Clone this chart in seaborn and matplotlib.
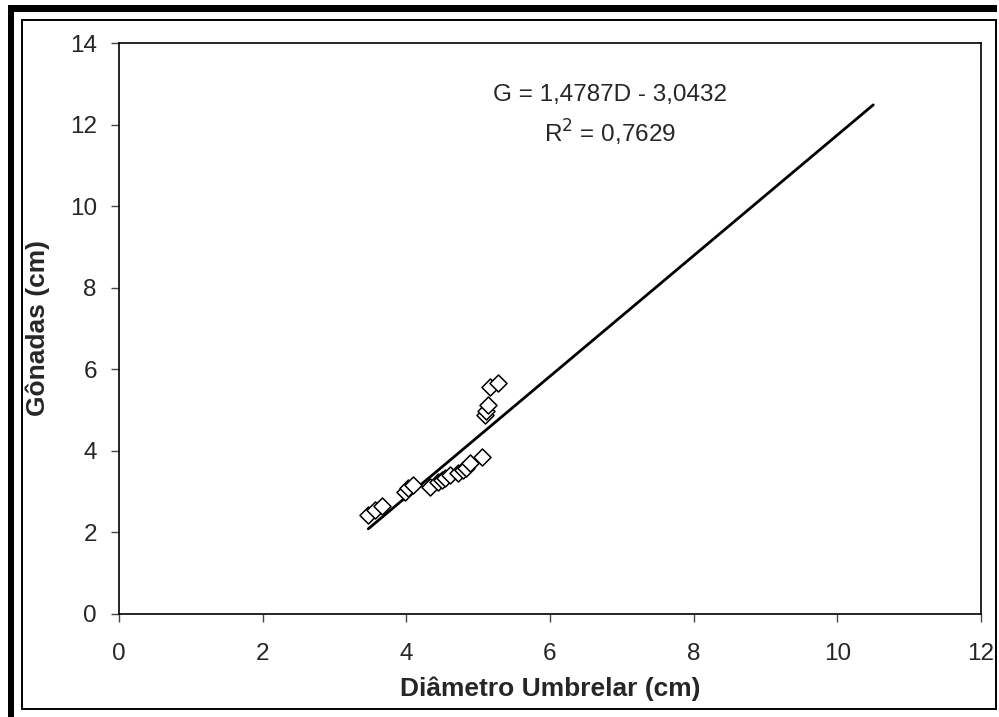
import matplotlib
matplotlib.use("Agg")
import matplotlib.pyplot as plt
from matplotlib.patches import Rectangle
import numpy as np
import pandas as pd
import seaborn as sns

# Umbrella diameter (cm) and gonad length (cm) of sampled medusae
diametro = [3.47, 3.57, 3.66, 3.98, 4.03, 4.09, 4.33, 4.44, 4.50, 4.54,
            4.61, 4.72, 4.79, 4.83, 4.89, 5.06, 5.10, 5.11, 5.14, 5.17, 5.28]
gonadas = [2.43, 2.55, 2.65, 2.99, 3.09, 3.16, 3.11, 3.24, 3.28, 3.33,
           3.41, 3.46, 3.53, 3.58, 3.70, 3.85, 4.88, 4.98, 5.12, 5.56, 5.66]

# Linear fit reported on the chart
slope = 1.4787
intercept = -3.0432
r2 = 0.7629
trend_x = [3.47, 10.5]

x_ticks = [0, 2, 4, 6, 8, 10, 12]
y_ticks = [0, 2, 4, 6, 8, 10, 12, 14]

sns.set_theme(style="ticks")
plt.rcParams["font.family"] = ["Liberation Sans", "DejaVu Sans"]

W, H = 999, 717
fig = plt.figure(figsize=(W / 100, H / 100), dpi=100)
fig.patch.set_facecolor("white")
ax = fig.add_axes([119 / W, 1 - 614 / H, (981 - 119) / W, (614 - 43) / H])
ax.set_facecolor("white")

df = pd.DataFrame({"D": diametro, "G": gonadas})
trend = pd.DataFrame({"D": trend_x,
                      "G": [slope * x + intercept for x in trend_x]})

sns.lineplot(data=trend, x="D", y="G", ax=ax, color="black", linewidth=2.0)
sns.scatterplot(data=df, x="D", y="G", ax=ax, marker="D", s=75,
                facecolor="white", edgecolor="black", linewidth=1.1, zorder=3)

ax.set_xlim(0, 12)
ax.set_ylim(0, 14)
ax.set_xticks(x_ticks)
ax.set_yticks(y_ticks)
ax.tick_params(direction="out", length=6, width=1, color="#444444",
               labelsize=17.5)
ax.tick_params(axis="x", pad=15)
ax.tick_params(axis="y", pad=10)
for s in ax.spines.values():
    s.set_visible(True)
    s.set_color("black")
    s.set_linewidth(1.2)

ax.set_xlabel("Diâmetro Umbrelar (cm)", fontsize=19, fontweight="bold",
              labelpad=8)
ax.set_ylabel("Gônadas (cm)", fontsize=19, fontweight="bold", labelpad=14)

ax.text(6.84, 12.72, f"G = {slope:.4f}D - {abs(intercept):.4f}".replace(".", ","),
        ha="center", va="center", fontsize=17.5)
ax.text(6.84, 11.79, f"R$^2$ = {r2:.4f}".replace(".", ","),
        ha="center", va="center", fontsize=17.5)

# Chart-area frame: thin box plus heavy left/top edge
def px_rect(x0, y0, x1, y1, **kw):
    fig.patches.append(Rectangle((x0 / W, 1 - y1 / H), (x1 - x0) / W,
                                 (y1 - y0) / H, transform=fig.transFigure, **kw))

px_rect(22, 20, 996, 709, fill=False, edgecolor="black", linewidth=1.4)
px_rect(8, 5, 14, 717, facecolor="black", edgecolor="none")
px_rect(8, 5, 997, 12, facecolor="black", edgecolor="none")

fig.savefig("out.png", dpi=100, facecolor="white")
